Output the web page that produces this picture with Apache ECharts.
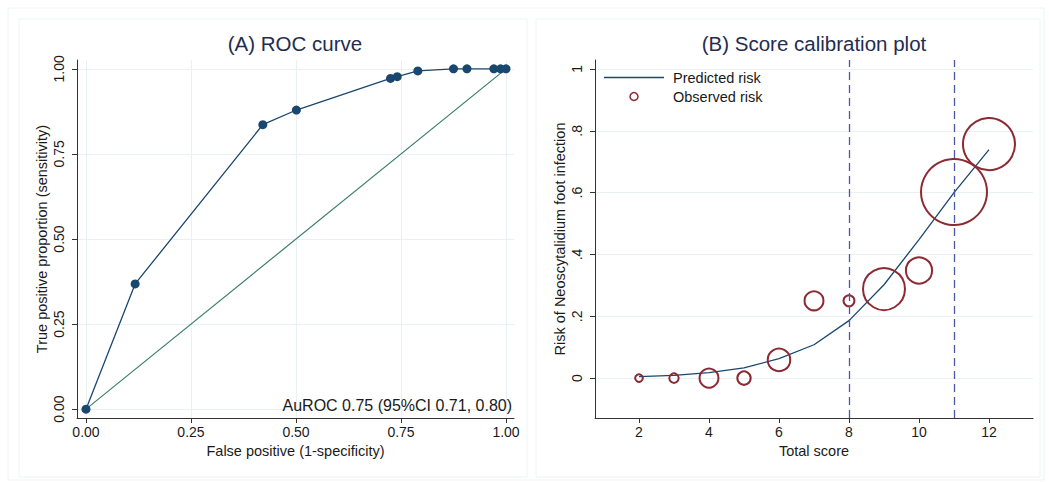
<!DOCTYPE html>
<html>
<head>
<meta charset="utf-8">
<script src="https://cdn.jsdelivr.net/npm/echarts@6/dist/echarts.min.js"></script>
<style>
  html, body { margin: 0; padding: 0; background: #fff; }
  #chart { width: 1049px; height: 482px; }
</style>
</head>
<body>
<div id="chart"></div>
<script>
// (A) ROC curve
const rocFpr = [0, 0.117, 0.421, 0.501, 0.725, 0.741, 0.790, 0.875, 0.907, 0.971, 0.987, 1.0]
const rocTpr = [0, 0.368, 0.836, 0.879, 0.972, 0.977, 0.994, 1.0, 1.0, 1.0, 1.0, 1.0]
const refLine = [[0, 0], [1, 1]]
const rocTicks = [0, 0.25, 0.5, 0.75, 1]
const rocTickLabels = ['0.00', '0.25', '0.50', '0.75', '1.00']
const aurocText = 'AuROC 0.75 (95%CI 0.71, 0.80)'

// (B) Score calibration plot
const scores = [2, 3, 4, 5, 6, 7, 8, 9, 10, 11, 12]
const predictedRisk = [0.005, 0.009, 0.018, 0.033, 0.063, 0.108, 0.186, 0.302, 0.448, 0.600, 0.739]
const observedRisk = [0, 0, 0, 0, 0.059, 0.25, 0.25, 0.288, 0.348, 0.602, 0.757]
const groupN = [2, 3, 12, 6, 17, 12, 4, 59, 23, 146, 91]
const cutoffs = [8, 11]
const scoreTicks = [2, 4, 6, 8, 10, 12]
const riskTicks = [0, 0.2, 0.4, 0.6, 0.8, 1]
const riskTickLabels = ['0', '.2', '.4', '.6', '.8', '1']

const navy = '#1a476f'
const maroon = '#8c2a33'
const teal = '#3a7d6a'
const dashBlue = '#4a58a8'
const gridColor = '#eaf1f3'
const textColor = '#1a1a1a'
const titleColor = '#1f2d50'
const font = 'Liberation Sans, Arial, sans-serif'

const myChart = echarts.init(document.getElementById('chart'), null, { renderer: 'svg' })

const axisCommon = {
  axisLine: { show: true, onZero: false, lineStyle: { color: '#333', width: 1 } },
  axisTick: { show: true, length: 5, lineStyle: { color: '#333' } },
  nameTextStyle: { color: textColor, fontFamily: font, fontSize: 14.5 },
  nameLocation: 'middle'
}

const labelFrom = (ticks, labels) => (value) => {
  const i = ticks.findIndex((t) => Math.abs(t - value) < 1e-6)
  return i >= 0 ? labels[i] : ''
}

const option = {
  backgroundColor: '#fff',
  animation: false,
  graphic: [
    { type: 'rect', shape: { x: 8, y: 8, width: 1036, height: 472 }, style: { fill: 'none', stroke: '#eef3f5', lineWidth: 1 }, silent: true },
    { type: 'rect', shape: { x: 19, y: 19, width: 508, height: 458 }, style: { fill: 'none', stroke: '#eef3f5', lineWidth: 1 }, silent: true },
    { type: 'rect', shape: { x: 536, y: 19, width: 504, height: 458 }, style: { fill: 'none', stroke: '#eef3f5', lineWidth: 1 }, silent: true },
    { type: 'text', x: 295, y: 43, style: { text: '(A) ROC curve', fill: titleColor, fontFamily: font, fontSize: 20.5, textAlign: 'center', textVerticalAlign: 'middle' } },
    { type: 'text', x: 814, y: 43, style: { text: '(B) Score calibration plot', fill: titleColor, fontFamily: font, fontSize: 20.5, textAlign: 'center', textVerticalAlign: 'middle' } },
    { type: 'text', x: 512, y: 405, z: 10, style: { text: aurocText, fill: textColor, fontFamily: font, fontSize: 16, textAlign: 'right', textVerticalAlign: 'middle' } }
  ],
  legend: {
    left: 604,
    top: 70,
    orient: 'vertical',
    itemWidth: 60,
    itemHeight: 8,
    itemGap: 4,
    padding: 0,
    selectedMode: false,
    textStyle: { color: textColor, fontFamily: font, fontSize: 14.5, padding: [0, 0, 0, 4] },
    data: [
      { name: 'Predicted risk', icon: 'path://M0,0 H60 V1.3 H0 Z', itemStyle: { color: navy } },
      { name: 'Observed risk', icon: 'circle', itemStyle: { color: 'rgba(0,0,0,0)', borderColor: maroon, borderWidth: 1.5, opacity: 1 } }
    ]
  },
  grid: [
    { left: 77, top: 60, width: 437, height: 358 },
    { left: 595, top: 60, width: 438, height: 358 }
  ],
  xAxis: [
    {
      ...axisCommon,
      type: 'value',
      gridIndex: 0,
      min: -0.0214,
      max: 1.019,
      name: 'False positive (1-specificity)',
      nameGap: 25,
      axisTick: { ...axisCommon.axisTick, customValues: rocTicks },
      axisLabel: { customValues: rocTicks, formatter: labelFrom(rocTicks, rocTickLabels), color: textColor, fontFamily: font, fontSize: 14, margin: 7 },
      splitLine: { show: true, lineStyle: { color: gridColor } }
    },
    {
      ...axisCommon,
      type: 'value',
      gridIndex: 1,
      min: 0.743,
      max: 13.257,
      name: 'Total score',
      nameGap: 25,
      axisTick: { ...axisCommon.axisTick, customValues: scoreTicks },
      axisLabel: { customValues: scoreTicks, formatter: labelFrom(scoreTicks, scoreTicks.map(String)), color: textColor, fontFamily: font, fontSize: 14, margin: 7 },
      splitLine: { show: false }
    }
  ],
  yAxis: [
    {
      ...axisCommon,
      type: 'value',
      gridIndex: 0,
      min: -0.026,
      max: 1.026,
      name: 'True positive proportion (sensitivity)',
      nameGap: 28,
      axisTick: { ...axisCommon.axisTick, customValues: rocTicks },
      axisLabel: { customValues: rocTicks, formatter: labelFrom(rocTicks, rocTickLabels), rotate: 90, color: textColor, fontFamily: font, fontSize: 14, margin: 11 },
      splitLine: { show: true, lineStyle: { color: gridColor } }
    },
    {
      ...axisCommon,
      type: 'value',
      gridIndex: 1,
      min: -0.129,
      max: 1.029,
      name: 'Risk of Neoscytalidium foot infection',
      nameGap: 28,
      axisTick: { ...axisCommon.axisTick, customValues: riskTicks },
      axisLabel: { customValues: riskTicks, formatter: labelFrom(riskTicks, riskTickLabels), rotate: 90, color: textColor, fontFamily: font, fontSize: 14, margin: 11 },
      splitLine: { show: true, lineStyle: { color: gridColor } }
    }
  ],
  series: [
    {
      name: 'Reference',
      type: 'line',
      xAxisIndex: 0,
      yAxisIndex: 0,
      data: refLine,
      symbol: 'none',
      lineStyle: { color: teal, width: 1.2 },
      z: 2
    },
    {
      name: 'ROC',
      type: 'line',
      xAxisIndex: 0,
      yAxisIndex: 0,
      data: rocFpr.map((x, i) => [x, rocTpr[i]]),
      symbol: 'circle',
      symbolSize: 9,
      itemStyle: { color: navy },
      lineStyle: { color: navy, width: 1.3 },
      z: 3
    },
    {
      name: 'Predicted risk',
      type: 'line',
      xAxisIndex: 1,
      yAxisIndex: 1,
      data: scores.map((x, i) => [x, predictedRisk[i]]),
      symbol: 'none',
      itemStyle: { color: navy },
      lineStyle: { color: navy, width: 1.3 },
      z: 3,
      markLine: {
        silent: true,
        symbol: 'none',
        label: { show: false },
        lineStyle: { color: dashBlue, width: 1.3, type: [8, 5] },
        data: cutoffs.map((c) => ({ xAxis: c }))
      }
    },
    {
      name: 'Observed risk',
      type: 'scatter',
      xAxisIndex: 1,
      yAxisIndex: 1,
      data: scores.map((x, i) => [x, observedRisk[i], groupN[i]]),
      symbol: 'circle',
      symbolSize: (v) => 5.46 * Math.sqrt(v[2]),
      itemStyle: { color: 'rgba(0,0,0,0)', borderColor: maroon, borderWidth: 2, opacity: 1 },
      z: 4
    }
  ]
}

myChart.setOption(option)
</script>
</body>
</html>
